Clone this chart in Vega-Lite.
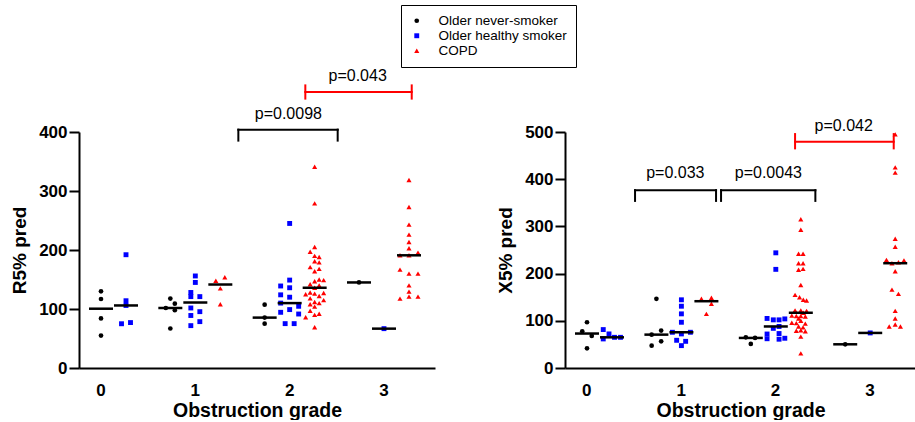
{
  "$schema": "https://vega.github.io/schema/vega-lite/v6.json",
  "background": "white",
  "padding": {"left": 10, "top": 4, "right": 0, "bottom": 0},
  "spacing": 61,
  "config": {
    "font": "Liberation Sans",
    "view": {"stroke": null},
    "axis": {
      "grid": false,
      "domainColor": "black",
      "domainWidth": 2,
      "tickColor": "black",
      "tickWidth": 2,
      "labelColor": "black",
      "titleColor": "black",
      "labelFont": "Liberation Sans",
      "titleFont": "Liberation Sans",
      "labelFontWeight": "bold",
      "titleFontWeight": "bold",
      "labelFontSize": 17,
      "titleFontSize": 19
    },
    "legend": {
      "strokeColor": "black",
      "strokeWidth": 1,
      "fillColor": "white",
      "padding": 9,
      "labelFont": "Liberation Sans",
      "labelFontSize": 13.5,
      "labelColor": "black",
      "symbolSize": 18,
      "symbolStrokeWidth": 0,
      "labelOffset": 15,
      "rowPadding": 0
    }
  },
  "datasets": {
    "r5": [
      {"grade": 0, "group": "Older never-smoker", "v": 130, "dx": 0},
      {"grade": 0, "group": "Older never-smoker", "v": 117, "dx": 0},
      {"grade": 0, "group": "Older never-smoker", "v": 84, "dx": 0},
      {"grade": 0, "group": "Older never-smoker", "v": 55, "dx": 0},
      {"grade": 0, "group": "Older healthy smoker", "v": 192, "dx": 1},
      {"grade": 0, "group": "Older healthy smoker", "v": 114, "dx": 1},
      {"grade": 0, "group": "Older healthy smoker", "v": 106, "dx": 1},
      {"grade": 0, "group": "Older healthy smoker", "v": 75, "dx": 0.82},
      {"grade": 0, "group": "Older healthy smoker", "v": 77, "dx": 1.18},
      {"grade": 1, "group": "Older never-smoker", "v": 117.6, "dx": -1},
      {"grade": 1, "group": "Older never-smoker", "v": 109, "dx": -0.82},
      {"grade": 1, "group": "Older never-smoker", "v": 101.7, "dx": -1.18},
      {"grade": 1, "group": "Older never-smoker", "v": 98, "dx": -0.82},
      {"grade": 1, "group": "Older never-smoker", "v": 67, "dx": -1},
      {"grade": 1, "group": "Older healthy smoker", "v": 156, "dx": 0},
      {"grade": 1, "group": "Older healthy smoker", "v": 145, "dx": 0},
      {"grade": 1, "group": "Older healthy smoker", "v": 128, "dx": -0.18},
      {"grade": 1, "group": "Older healthy smoker", "v": 121, "dx": -0.18},
      {"grade": 1, "group": "Older healthy smoker", "v": 121, "dx": 0.18},
      {"grade": 1, "group": "Older healthy smoker", "v": 101.7, "dx": -0.18},
      {"grade": 1, "group": "Older healthy smoker", "v": 95.5, "dx": 0.18},
      {"grade": 1, "group": "Older healthy smoker", "v": 89, "dx": -0.18},
      {"grade": 1, "group": "Older healthy smoker", "v": 78.6, "dx": 0.18},
      {"grade": 1, "group": "Older healthy smoker", "v": 71.8, "dx": -0.18},
      {"grade": 1, "group": "COPD", "v": 148, "dx": 0.82},
      {"grade": 1, "group": "COPD", "v": 153.7, "dx": 1.18},
      {"grade": 1, "group": "COPD", "v": 135, "dx": 1},
      {"grade": 1, "group": "COPD", "v": 108, "dx": 1},
      {"grade": 2, "group": "Older never-smoker", "v": 107.4, "dx": -1},
      {"grade": 2, "group": "Older never-smoker", "v": 85.4, "dx": -1},
      {"grade": 2, "group": "Older never-smoker", "v": 75.2, "dx": -1},
      {"grade": 2, "group": "Older healthy smoker", "v": 245, "dx": 0},
      {"grade": 2, "group": "Older healthy smoker", "v": 149, "dx": 0},
      {"grade": 2, "group": "Older healthy smoker", "v": 139, "dx": -0.36},
      {"grade": 2, "group": "Older healthy smoker", "v": 136, "dx": 0},
      {"grade": 2, "group": "Older healthy smoker", "v": 124, "dx": -0.36},
      {"grade": 2, "group": "Older healthy smoker", "v": 120, "dx": 0},
      {"grade": 2, "group": "Older healthy smoker", "v": 110, "dx": -0.36},
      {"grade": 2, "group": "Older healthy smoker", "v": 104.6, "dx": 0.36},
      {"grade": 2, "group": "Older healthy smoker", "v": 99, "dx": 0},
      {"grade": 2, "group": "Older healthy smoker", "v": 94.4, "dx": -0.36},
      {"grade": 2, "group": "Older healthy smoker", "v": 91.5, "dx": 0.36},
      {"grade": 2, "group": "Older healthy smoker", "v": 75.2, "dx": -0.18},
      {"grade": 2, "group": "Older healthy smoker", "v": 75.2, "dx": 0.18},
      {"grade": 2, "group": "COPD", "v": 341, "dx": 1},
      {"grade": 2, "group": "COPD", "v": 279, "dx": 1},
      {"grade": 2, "group": "COPD", "v": 205, "dx": 1},
      {"grade": 2, "group": "COPD", "v": 197, "dx": 0.82},
      {"grade": 2, "group": "COPD", "v": 190, "dx": 1},
      {"grade": 2, "group": "COPD", "v": 188, "dx": 1.18},
      {"grade": 2, "group": "COPD", "v": 181, "dx": 1},
      {"grade": 2, "group": "COPD", "v": 179, "dx": 1.18},
      {"grade": 2, "group": "COPD", "v": 171, "dx": 0.82},
      {"grade": 2, "group": "COPD", "v": 168, "dx": 1.18},
      {"grade": 2, "group": "COPD", "v": 164, "dx": 1},
      {"grade": 2, "group": "COPD", "v": 150, "dx": 1.18},
      {"grade": 2, "group": "COPD", "v": 149, "dx": 1.36},
      {"grade": 2, "group": "COPD", "v": 147, "dx": 1},
      {"grade": 2, "group": "COPD", "v": 142, "dx": 0.82},
      {"grade": 2, "group": "COPD", "v": 140, "dx": 1.18},
      {"grade": 2, "group": "COPD", "v": 136, "dx": 1},
      {"grade": 2, "group": "COPD", "v": 128, "dx": 0.82},
      {"grade": 2, "group": "COPD", "v": 127, "dx": 1.36},
      {"grade": 2, "group": "COPD", "v": 126, "dx": 1},
      {"grade": 2, "group": "COPD", "v": 125, "dx": 0.64},
      {"grade": 2, "group": "COPD", "v": 122, "dx": 1.18},
      {"grade": 2, "group": "COPD", "v": 118, "dx": 0.82},
      {"grade": 2, "group": "COPD", "v": 115, "dx": 1.36},
      {"grade": 2, "group": "COPD", "v": 112, "dx": 1},
      {"grade": 2, "group": "COPD", "v": 110, "dx": 1.18},
      {"grade": 2, "group": "COPD", "v": 108, "dx": 0.82},
      {"grade": 2, "group": "COPD", "v": 104, "dx": 1},
      {"grade": 2, "group": "COPD", "v": 97, "dx": 0.82},
      {"grade": 2, "group": "COPD", "v": 92, "dx": 1.18},
      {"grade": 2, "group": "COPD", "v": 90, "dx": 1},
      {"grade": 2, "group": "COPD", "v": 86, "dx": 0.64},
      {"grade": 2, "group": "COPD", "v": 69, "dx": 1},
      {"grade": 3, "group": "Older never-smoker", "v": 145, "dx": -1},
      {"grade": 3, "group": "Older healthy smoker", "v": 66.7, "dx": 0},
      {"grade": 3, "group": "COPD", "v": 318.7, "dx": 1},
      {"grade": 3, "group": "COPD", "v": 273, "dx": 1},
      {"grade": 3, "group": "COPD", "v": 243, "dx": 1},
      {"grade": 3, "group": "COPD", "v": 226, "dx": 1},
      {"grade": 3, "group": "COPD", "v": 213.6, "dx": 1},
      {"grade": 3, "group": "COPD", "v": 203, "dx": 1},
      {"grade": 3, "group": "COPD", "v": 195.6, "dx": 1.36},
      {"grade": 3, "group": "COPD", "v": 191, "dx": 0.64},
      {"grade": 3, "group": "COPD", "v": 191, "dx": 1},
      {"grade": 3, "group": "COPD", "v": 166.7, "dx": 0.64},
      {"grade": 3, "group": "COPD", "v": 160, "dx": 1},
      {"grade": 3, "group": "COPD", "v": 160, "dx": 1.36},
      {"grade": 3, "group": "COPD", "v": 140, "dx": 1},
      {"grade": 3, "group": "COPD", "v": 129.5, "dx": 1},
      {"grade": 3, "group": "COPD", "v": 121, "dx": 1},
      {"grade": 3, "group": "COPD", "v": 121, "dx": 1.36},
      {"grade": 3, "group": "COPD", "v": 117.6, "dx": 0.64}
    ],
    "x5": [
      {"grade": 0, "group": "Older never-smoker", "v": 96.9, "dx": 0},
      {"grade": 0, "group": "Older never-smoker", "v": 77.8, "dx": -0.19},
      {"grade": 0, "group": "Older never-smoker", "v": 68, "dx": 0.19},
      {"grade": 0, "group": "Older never-smoker", "v": 41.7, "dx": 0},
      {"grade": 0, "group": "Older healthy smoker", "v": 81.4, "dx": 0.65},
      {"grade": 0, "group": "Older healthy smoker", "v": 61.6, "dx": 0.65},
      {"grade": 0, "group": "Older healthy smoker", "v": 72.2, "dx": 0.88},
      {"grade": 0, "group": "Older healthy smoker", "v": 65, "dx": 1.1},
      {"grade": 0, "group": "Older healthy smoker", "v": 65, "dx": 1.34},
      {"grade": 1, "group": "Older never-smoker", "v": 146.6, "dx": -1},
      {"grade": 1, "group": "Older never-smoker", "v": 70.7, "dx": -1.19},
      {"grade": 1, "group": "Older never-smoker", "v": 79.2, "dx": -0.81},
      {"grade": 1, "group": "Older never-smoker", "v": 56.5, "dx": -0.81},
      {"grade": 1, "group": "Older never-smoker", "v": 47.4, "dx": -1.19},
      {"grade": 1, "group": "Older healthy smoker", "v": 144.5, "dx": 0},
      {"grade": 1, "group": "Older healthy smoker", "v": 130.9, "dx": 0},
      {"grade": 1, "group": "Older healthy smoker", "v": 114.7, "dx": 0},
      {"grade": 1, "group": "Older healthy smoker", "v": 96.9, "dx": 0},
      {"grade": 1, "group": "Older healthy smoker", "v": 75.7, "dx": -0.36},
      {"grade": 1, "group": "Older healthy smoker", "v": 72.2, "dx": 0},
      {"grade": 1, "group": "Older healthy smoker", "v": 75.7, "dx": 0.36},
      {"grade": 1, "group": "Older healthy smoker", "v": 58.7, "dx": -0.19},
      {"grade": 1, "group": "Older healthy smoker", "v": 56.5, "dx": 0.17},
      {"grade": 1, "group": "Older healthy smoker", "v": 47.4, "dx": 0},
      {"grade": 1, "group": "COPD", "v": 146.6, "dx": 0.8},
      {"grade": 1, "group": "COPD", "v": 148.7, "dx": 1.2},
      {"grade": 1, "group": "COPD", "v": 136, "dx": 1.2},
      {"grade": 1, "group": "COPD", "v": 114.7, "dx": 1},
      {"grade": 2, "group": "Older never-smoker", "v": 65, "dx": -1.2},
      {"grade": 2, "group": "Older never-smoker", "v": 63.7, "dx": -0.83},
      {"grade": 2, "group": "Older never-smoker", "v": 51, "dx": -1},
      {"grade": 2, "group": "Older healthy smoker", "v": 244, "dx": 0},
      {"grade": 2, "group": "Older healthy smoker", "v": 209, "dx": 0},
      {"grade": 2, "group": "Older healthy smoker", "v": 105, "dx": -0.35},
      {"grade": 2, "group": "Older healthy smoker", "v": 102, "dx": -0.1},
      {"grade": 2, "group": "Older healthy smoker", "v": 102, "dx": 0.13},
      {"grade": 2, "group": "Older healthy smoker", "v": 104, "dx": 0.36},
      {"grade": 2, "group": "Older healthy smoker", "v": 88, "dx": 0.13},
      {"grade": 2, "group": "Older healthy smoker", "v": 84, "dx": -0.1},
      {"grade": 2, "group": "Older healthy smoker", "v": 73, "dx": 0.13},
      {"grade": 2, "group": "Older healthy smoker", "v": 72, "dx": -0.35},
      {"grade": 2, "group": "Older healthy smoker", "v": 62, "dx": -0.35},
      {"grade": 2, "group": "Older healthy smoker", "v": 61, "dx": 0.13},
      {"grade": 2, "group": "Older healthy smoker", "v": 63, "dx": 0.36},
      {"grade": 2, "group": "COPD", "v": 315, "dx": 1},
      {"grade": 2, "group": "COPD", "v": 293, "dx": 1},
      {"grade": 2, "group": "COPD", "v": 242, "dx": 0.91},
      {"grade": 2, "group": "COPD", "v": 242, "dx": 1.09},
      {"grade": 2, "group": "COPD", "v": 222, "dx": 0.91},
      {"grade": 2, "group": "COPD", "v": 222, "dx": 1.09},
      {"grade": 2, "group": "COPD", "v": 210, "dx": 1.09},
      {"grade": 2, "group": "COPD", "v": 208, "dx": 0.91},
      {"grade": 2, "group": "COPD", "v": 176, "dx": 1},
      {"grade": 2, "group": "COPD", "v": 155, "dx": 0.77},
      {"grade": 2, "group": "COPD", "v": 150, "dx": 0.95},
      {"grade": 2, "group": "COPD", "v": 144.5, "dx": 1.1},
      {"grade": 2, "group": "COPD", "v": 143, "dx": 1.23},
      {"grade": 2, "group": "COPD", "v": 122, "dx": 0.77},
      {"grade": 2, "group": "COPD", "v": 122, "dx": 1},
      {"grade": 2, "group": "COPD", "v": 121, "dx": 1.23},
      {"grade": 2, "group": "COPD", "v": 117, "dx": 1.1},
      {"grade": 2, "group": "COPD", "v": 111, "dx": 0.64},
      {"grade": 2, "group": "COPD", "v": 110, "dx": 0.82},
      {"grade": 2, "group": "COPD", "v": 110, "dx": 1},
      {"grade": 2, "group": "COPD", "v": 109, "dx": 1.18},
      {"grade": 2, "group": "COPD", "v": 105, "dx": 0.91},
      {"grade": 2, "group": "COPD", "v": 100, "dx": 1},
      {"grade": 2, "group": "COPD", "v": 96, "dx": 0.64},
      {"grade": 2, "group": "COPD", "v": 95, "dx": 0.82},
      {"grade": 2, "group": "COPD", "v": 94, "dx": 1.18},
      {"grade": 2, "group": "COPD", "v": 88, "dx": 0.91},
      {"grade": 2, "group": "COPD", "v": 86, "dx": 1.09},
      {"grade": 2, "group": "COPD", "v": 80, "dx": 1},
      {"grade": 2, "group": "COPD", "v": 79, "dx": 0.82},
      {"grade": 2, "group": "COPD", "v": 78, "dx": 1.18},
      {"grade": 2, "group": "COPD", "v": 66.5, "dx": 1},
      {"grade": 2, "group": "COPD", "v": 31, "dx": 1},
      {"grade": 3, "group": "Older never-smoker", "v": 50.2, "dx": -1},
      {"grade": 3, "group": "Older healthy smoker", "v": 74.3, "dx": 0},
      {"grade": 3, "group": "COPD", "v": 495, "dx": 1},
      {"grade": 3, "group": "COPD", "v": 425, "dx": 1},
      {"grade": 3, "group": "COPD", "v": 414, "dx": 1},
      {"grade": 3, "group": "COPD", "v": 274, "dx": 1},
      {"grade": 3, "group": "COPD", "v": 257, "dx": 1},
      {"grade": 3, "group": "COPD", "v": 229, "dx": 0.65},
      {"grade": 3, "group": "COPD", "v": 222, "dx": 0.87},
      {"grade": 3, "group": "COPD", "v": 224, "dx": 1.13},
      {"grade": 3, "group": "COPD", "v": 228, "dx": 1.35},
      {"grade": 3, "group": "COPD", "v": 205, "dx": 1},
      {"grade": 3, "group": "COPD", "v": 166, "dx": 0.87},
      {"grade": 3, "group": "COPD", "v": 157, "dx": 1.13},
      {"grade": 3, "group": "COPD", "v": 121, "dx": 1},
      {"grade": 3, "group": "COPD", "v": 105, "dx": 1},
      {"grade": 3, "group": "COPD", "v": 92, "dx": 1},
      {"grade": 3, "group": "COPD", "v": 88, "dx": 0.76},
      {"grade": 3, "group": "COPD", "v": 88, "dx": 1.21}
    ],
    "r5med": [
      {"grade": 0, "group": "Older never-smoker", "m": 100.5, "dx": 0},
      {"grade": 0, "group": "Older healthy smoker", "m": 106, "dx": 1},
      {"grade": 1, "group": "Older never-smoker", "m": 101.7, "dx": -1},
      {"grade": 1, "group": "Older healthy smoker", "m": 111, "dx": 0},
      {"grade": 1, "group": "COPD", "m": 141.5, "dx": 1},
      {"grade": 2, "group": "Older never-smoker", "m": 85.4, "dx": -1},
      {"grade": 2, "group": "Older healthy smoker", "m": 110, "dx": 0},
      {"grade": 2, "group": "COPD", "m": 136, "dx": 1},
      {"grade": 3, "group": "Older never-smoker", "m": 145, "dx": -1},
      {"grade": 3, "group": "Older healthy smoker", "m": 66.7, "dx": 0},
      {"grade": 3, "group": "COPD", "m": 191, "dx": 1}
    ],
    "x5med": [
      {"grade": 0, "group": "Older never-smoker", "m": 73, "dx": 0},
      {"grade": 0, "group": "Older healthy smoker", "m": 65, "dx": 1},
      {"grade": 1, "group": "Older never-smoker", "m": 70.7, "dx": -1},
      {"grade": 1, "group": "Older healthy smoker", "m": 75.7, "dx": 0},
      {"grade": 1, "group": "COPD", "m": 141.5, "dx": 1},
      {"grade": 2, "group": "Older never-smoker", "m": 63.7, "dx": -1},
      {"grade": 2, "group": "Older healthy smoker", "m": 88, "dx": 0},
      {"grade": 2, "group": "COPD", "m": 117, "dx": 1},
      {"grade": 3, "group": "Older never-smoker", "m": 50.2, "dx": -1},
      {"grade": 3, "group": "Older healthy smoker", "m": 74.3, "dx": 0},
      {"grade": 3, "group": "COPD", "m": 222, "dx": 1}
    ],
    "r5ann": [
      {"kind": "bracket", "x1": 1.456, "x2": 2.509, "y": 404, "lo": 385.4, "hi": 404, "label": "p=0.0098", "tx": 1.986, "ty": 422.7},
      {"kind": "range", "x1": 2.166, "x2": 3.294, "y": 467.8, "lo": 456.6, "hi": 479, "label": "p=0.043", "tx": 2.721, "ty": 486}
    ],
    "x5ann": [
      {"kind": "bracket", "x1": 0.512, "x2": 1.37, "y": 376.7, "lo": 354, "hi": 376.7, "label": "p=0.033", "tx": 0.939, "ty": 401.5},
      {"kind": "bracket", "x1": 1.423, "x2": 2.422, "y": 376.7, "lo": 354, "hi": 376.7, "label": "p=0.0043", "tx": 1.924, "ty": 401.5},
      {"kind": "range", "x1": 2.207, "x2": 3.252, "y": 479.3, "lo": 465.3, "hi": 495.6, "label": "p=0.042", "tx": 2.722, "ty": 502.7}
    ]
  },
  "hconcat": [
    {
      "width": 356,
      "height": 236,
      "resolve": {"scale": {"x": "independent"}},
      "layer": [
        {
          "layer": [
            {
              "data": {"name": "r5"},
              "mark": {"type": "point", "filled": true, "opacity": 1, "strokeWidth": 0},
              "encoding": {
                "x": {"field": "grade", "type": "ordinal", "scale": {"type": "band", "domain": [0, 1, 2, 3], "paddingInner": 0.5336, "paddingOuter": 0.1538, "align": 0}, "axis": {"title": "Obstruction grade", "labelAngle": 0, "ticks": false, "labelPadding": 14, "titlePadding": 3, "titleFontSize": 19.5}},
                "xOffset": {"field": "dx", "type": "quantitative", "scale": {"domain": [-1, 1], "range": [-3, 47]}},
                "y": {"field": "v", "type": "quantitative", "scale": {"domain": [0, 400], "nice": false}, "axis": {"title": "R5% pred", "values": [0, 100, 200, 300, 400], "tickSize": 10, "labelPadding": 2, "titlePadding": 9}},
                "color": {"field": "group", "type": "nominal", "scale": {"domain": ["Older never-smoker", "Older healthy smoker", "COPD"], "range": ["#000000", "#0000ff", "#ff0000"]}, "legend": {"title": null, "orient": "none", "legendX": 322, "legendY": -127}},
                "shape": {"field": "group", "type": "nominal", "scale": {"domain": ["Older never-smoker", "Older healthy smoker", "COPD"], "range": ["circle", "square", "triangle-up"]}, "legend": {"title": null, "orient": "none", "legendX": 322, "legendY": -127}},
                "size": {"field": "group", "type": "nominal", "scale": {"domain": ["Older never-smoker", "Older healthy smoker", "COPD"], "range": [22, 26, 34]}, "legend": null}
              }
            },
            {
              "data": {"name": "r5med"},
              "mark": {"type": "tick", "orient": "horizontal", "size": 24, "thickness": 2.5, "color": "black", "opacity": 1},
              "encoding": {
                "x": {"field": "grade", "type": "ordinal", "scale": {"type": "band", "domain": [0, 1, 2, 3], "paddingInner": 0.5336, "paddingOuter": 0.1538, "align": 0}, "axis": {"title": "Obstruction grade", "labelAngle": 0, "ticks": false, "labelPadding": 14, "titlePadding": 3, "titleFontSize": 19.5}},
                "xOffset": {"field": "dx", "type": "quantitative", "scale": {"domain": [-1, 1], "range": [-3, 47]}},
                "y": {"field": "m", "type": "quantitative", "scale": {"domain": [0, 400], "nice": false}, "title": "R5% pred"}
              }
            }
          ]
        },
        {
          "data": {"name": "r5ann"},
          "layer": [
            {
              "mark": {"type": "rule", "strokeWidth": 2, "strokeCap": "square"},
              "encoding": {
                "x": {"field": "x1", "type": "quantitative", "scale": {"domain": [-0.2332, 3.5407], "nice": false, "zero": false}, "axis": null},
                "x2": {"field": "x2"},
                "y": {"field": "y", "type": "quantitative", "scale": {"domain": [0, 400], "nice": false}, "title": "R5% pred"},
                "stroke": {"field": "kind", "type": "nominal", "scale": {"domain": ["bracket", "range"], "range": ["#000000", "#ff0000"]}, "legend": null}
              }
            },
            {
              "mark": {"type": "rule", "strokeWidth": 2, "strokeCap": "square"},
              "encoding": {
                "x": {"field": "x1", "type": "quantitative", "scale": {"domain": [-0.2332, 3.5407], "nice": false, "zero": false}, "axis": null},
                "y": {"field": "lo", "type": "quantitative", "scale": {"domain": [0, 400], "nice": false}, "title": "R5% pred"},
                "y2": {"field": "hi"},
                "stroke": {"field": "kind", "type": "nominal", "scale": {"domain": ["bracket", "range"], "range": ["#000000", "#ff0000"]}, "legend": null}
              }
            },
            {
              "mark": {"type": "rule", "strokeWidth": 2, "strokeCap": "square"},
              "encoding": {
                "x": {"field": "x2", "type": "quantitative", "scale": {"domain": [-0.2332, 3.5407], "nice": false, "zero": false}, "axis": null},
                "y": {"field": "lo", "type": "quantitative", "scale": {"domain": [0, 400], "nice": false}, "title": "R5% pred"},
                "y2": {"field": "hi"},
                "stroke": {"field": "kind", "type": "nominal", "scale": {"domain": ["bracket", "range"], "range": ["#000000", "#ff0000"]}, "legend": null}
              }
            },
            {
              "mark": {"type": "text", "fontSize": 16, "font": "Liberation Sans", "color": "black", "baseline": "alphabetic", "align": "center"},
              "encoding": {
                "x": {"field": "tx", "type": "quantitative", "scale": {"domain": [-0.2332, 3.5407], "nice": false, "zero": false}, "axis": null},
                "y": {"field": "ty", "type": "quantitative", "scale": {"domain": [0, 400], "nice": false}, "title": "R5% pred"},
                "text": {"field": "label", "type": "nominal"}
              }
            }
          ]
        }
      ]
    },
    {
      "width": 351,
      "height": 236,
      "resolve": {"scale": {"x": "independent"}},
      "layer": [
        {
          "layer": [
            {
              "data": {"name": "x5"},
              "mark": {"type": "point", "filled": true, "opacity": 1, "strokeWidth": 0},
              "encoding": {
                "x": {"field": "grade", "type": "ordinal", "scale": {"type": "band", "domain": [0, 1, 2, 3], "paddingInner": 0.54, "paddingOuter": 0.129, "align": 0}, "axis": {"title": "Obstruction grade", "labelAngle": 0, "ticks": false, "labelPadding": 14, "titlePadding": 3, "titleFontSize": 19.5}},
                "xOffset": {"field": "dx", "type": "quantitative", "scale": {"domain": [-1, 1], "range": [-3, 47]}},
                "y": {"field": "v", "type": "quantitative", "scale": {"domain": [0, 500], "nice": false}, "axis": {"title": "X5% pred", "values": [0, 100, 200, 300, 400, 500], "tickSize": 10, "labelPadding": 2, "titlePadding": 9}},
                "color": {"field": "group", "type": "nominal", "scale": {"domain": ["Older never-smoker", "Older healthy smoker", "COPD"], "range": ["#000000", "#0000ff", "#ff0000"]}, "legend": {"title": null, "orient": "none", "legendX": 322, "legendY": -127}},
                "shape": {"field": "group", "type": "nominal", "scale": {"domain": ["Older never-smoker", "Older healthy smoker", "COPD"], "range": ["circle", "square", "triangle-up"]}, "legend": {"title": null, "orient": "none", "legendX": 322, "legendY": -127}},
                "size": {"field": "group", "type": "nominal", "scale": {"domain": ["Older never-smoker", "Older healthy smoker", "COPD"], "range": [22, 26, 34]}, "legend": null}
              }
            },
            {
              "data": {"name": "x5med"},
              "mark": {"type": "tick", "orient": "horizontal", "size": 24, "thickness": 2.5, "color": "black", "opacity": 1},
              "encoding": {
                "x": {"field": "grade", "type": "ordinal", "scale": {"type": "band", "domain": [0, 1, 2, 3], "paddingInner": 0.54, "paddingOuter": 0.129, "align": 0}, "axis": {"title": "Obstruction grade", "labelAngle": 0, "ticks": false, "labelPadding": 14, "titlePadding": 3, "titleFontSize": 19.5}},
                "xOffset": {"field": "dx", "type": "quantitative", "scale": {"domain": [-1, 1], "range": [-3, 47]}},
                "y": {"field": "m", "type": "quantitative", "scale": {"domain": [0, 500], "nice": false}, "title": "X5% pred"}
              }
            }
          ]
        },
        {
          "data": {"name": "x5ann"},
          "layer": [
            {
              "mark": {"type": "rule", "strokeWidth": 2, "strokeCap": "square"},
              "encoding": {
                "x": {"field": "x1", "type": "quantitative", "scale": {"domain": [-0.2299, 3.488], "nice": false, "zero": false}, "axis": null},
                "x2": {"field": "x2"},
                "y": {"field": "y", "type": "quantitative", "scale": {"domain": [0, 500], "nice": false}, "title": "X5% pred"},
                "stroke": {"field": "kind", "type": "nominal", "scale": {"domain": ["bracket", "range"], "range": ["#000000", "#ff0000"]}, "legend": null}
              }
            },
            {
              "mark": {"type": "rule", "strokeWidth": 2, "strokeCap": "square"},
              "encoding": {
                "x": {"field": "x1", "type": "quantitative", "scale": {"domain": [-0.2299, 3.488], "nice": false, "zero": false}, "axis": null},
                "y": {"field": "lo", "type": "quantitative", "scale": {"domain": [0, 500], "nice": false}, "title": "X5% pred"},
                "y2": {"field": "hi"},
                "stroke": {"field": "kind", "type": "nominal", "scale": {"domain": ["bracket", "range"], "range": ["#000000", "#ff0000"]}, "legend": null}
              }
            },
            {
              "mark": {"type": "rule", "strokeWidth": 2, "strokeCap": "square"},
              "encoding": {
                "x": {"field": "x2", "type": "quantitative", "scale": {"domain": [-0.2299, 3.488], "nice": false, "zero": false}, "axis": null},
                "y": {"field": "lo", "type": "quantitative", "scale": {"domain": [0, 500], "nice": false}, "title": "X5% pred"},
                "y2": {"field": "hi"},
                "stroke": {"field": "kind", "type": "nominal", "scale": {"domain": ["bracket", "range"], "range": ["#000000", "#ff0000"]}, "legend": null}
              }
            },
            {
              "mark": {"type": "text", "fontSize": 16, "font": "Liberation Sans", "color": "black", "baseline": "alphabetic", "align": "center"},
              "encoding": {
                "x": {"field": "tx", "type": "quantitative", "scale": {"domain": [-0.2299, 3.488], "nice": false, "zero": false}, "axis": null},
                "y": {"field": "ty", "type": "quantitative", "scale": {"domain": [0, 500], "nice": false}, "title": "X5% pred"},
                "text": {"field": "label", "type": "nominal"}
              }
            }
          ]
        }
      ]
    }
  ]
}
